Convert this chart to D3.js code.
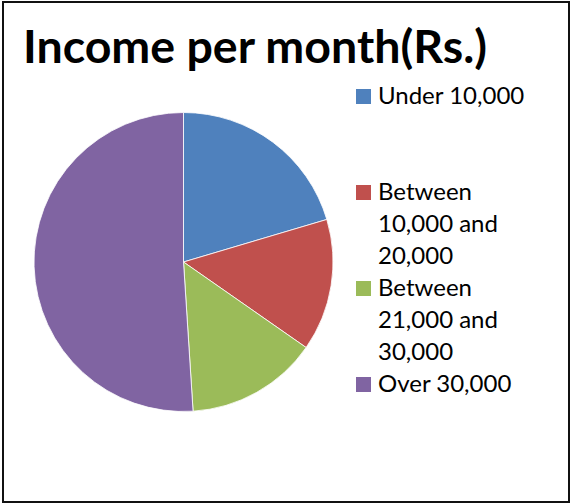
<!DOCTYPE html>
<html>
<head>
<meta charset="utf-8">
<script src="https://cdn.jsdelivr.net/npm/d3@7"></script>
<style>
    body { margin: 0; background: #fff; }
    svg text { font-family: Lato, "Open Sans", sans-serif; fill: #000; }
    .title { font-weight: bold; font-size: 46.5px; }
    .legend-text { font-size: 24px; }
</style>
</head>
<body>
<div id="chartdiv"></div>
<script>
    // chart data
    const categories = ["Under 10,000", "Between 10,000 and 20,000", "Between 21,000 and 30,000", "Over 30,000"];
    const counts = [10, 7, 7, 25];
    const colors = ["#4F81BD", "#C0504D", "#9BBB59", "#8064A2"];
    // legend labels wrapped the way the original wraps them
    const legendLines = [["Under 10,000"], ["Between", "10,000 and", "20,000"], ["Between", "21,000 and", "30,000"], ["Over 30,000"]];

    const width = 571, height = 504;

    const svg = d3.select("#chartdiv").append("svg")
        .attr("width", width)
        .attr("height", height);

    // outer frame
    svg.append("rect")
        .attr("x", 3).attr("y", 2)
        .attr("width", 566).attr("height", 500)
        .attr("fill", "none")
        .attr("stroke", "#111")
        .attr("stroke-width", 2);

    svg.append("text")
        .attr("class", "title")
        .attr("x", 255)
        .attr("y", 63)
        .attr("text-anchor", "middle")
        .text("Income per month(Rs.)");

    const pie = d3.pie().sort(null).value(d => d.value);
    const arc = d3.arc().innerRadius(0).outerRadius(149.5);

    const data = categories.map((c, i) => ({name: c, value: counts[i], color: colors[i]}));

    const g = svg.append("g").attr("transform", "translate(183.5,262)");
    g.selectAll("path")
        .data(pie(data))
        .join("path")
        .attr("d", arc)
        .attr("fill", d => d.data.color)
        .attr("stroke", "#fff")
        .attr("stroke-width", 0.8);

    // legend, each entry takes 3 lines
    const lineH = 32;
    const legend = svg.append("g").attr("transform", "translate(356,104)");
    let row = 0;
    data.forEach((d, i) => {
        const y0 = row * lineH;
        legend.append("rect")
            .attr("x", 0).attr("y", y0 - 15)
            .attr("width", 15).attr("height", 15)
            .attr("fill", d.color);
        legend.append("text")
            .attr("class", "legend-text")
            .selectAll("tspan")
            .data(legendLines[i])
            .join("tspan")
            .attr("x", 22)
            .attr("y", (t, j) => y0 + j * lineH)
            .text(t => t);
        row += 3;
    });
</script>
</body>
</html>
